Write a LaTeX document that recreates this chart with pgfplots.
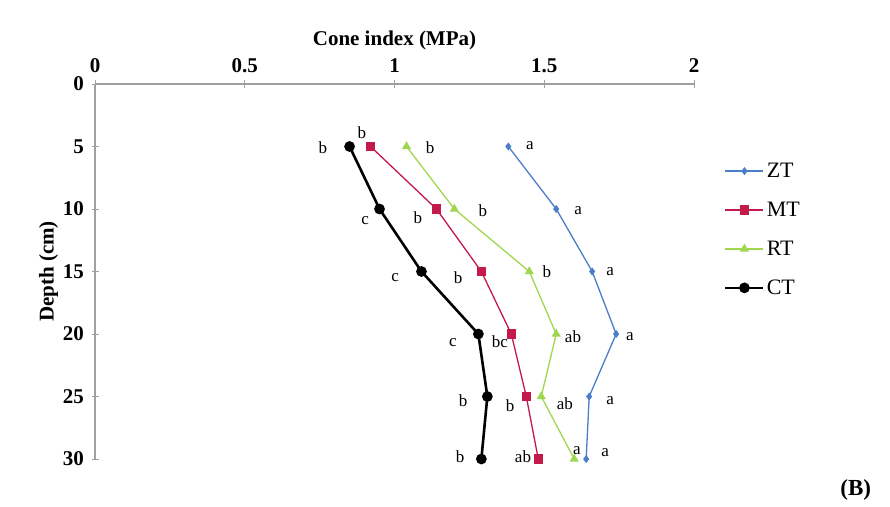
\documentclass[border=0pt]{standalone}
\usepackage{pgfplots}
\pgfplotsset{compat=1.18}
\usepackage{fontspec}
\setmainfont{Liberation Serif}
\definecolor{zt}{RGB}{74,126,200}
\definecolor{mt}{RGB}{195,25,75}
\definecolor{rt}{RGB}{160,215,80}
\definecolor{ax}{RGB}{160,160,160}
\begin{document}
\begin{tikzpicture}
\useasboundingbox (0,0) rectangle (890pt,506pt);
\begin{axis}[
  at={(95pt,47pt)}, anchor=south west,
  scale only axis, width=599pt, height=375pt,
  y dir=reverse,
  xmin=0, xmax=2, ymin=0, ymax=30,
  xtick={0,0.5,1,1.5,2}, ytick={0,5,10,15,20,25,30},
  axis x line*=top, axis y line*=left,
  axis line style={ax, line width=1.2pt},
  tick style={ax, line width=1pt},
  tick align=center, major tick length=7pt,
  xticklabel pos=upper,
  /pgf/number format/assume math mode=true,
  ticklabel style={font=\fontsize{21}{25}\selectfont\bfseries},
  xticklabel style={yshift=4pt},
  yticklabel style={xshift=-4pt},
  xlabel={Cone index (MPa)}, ylabel={Depth (cm)},
  label style={font=\fontsize{21}{25}\selectfont\bfseries},
  xlabel style={yshift=2pt},
  ylabel style={yshift=-2pt},
  clip=false,
  legend style={at={(1.045,0.612)}, anchor=west, draw=none, fill=none,
    font=\fontsize{22}{26}\selectfont, row sep=19pt,
    legend cell align=left},
  legend image code/.code={\draw[#1] (0pt,0pt) -- (38pt,0pt); \draw[#1,mark repeat=2,mark phase=2] plot coordinates {(0pt,0pt) (19pt,0pt) (38pt,0pt)};},
]
\addplot[zt, line width=1.3pt, mark=diamond*, mark size=3pt] coordinates {
(1.38,5) (1.54,10) (1.66,15) (1.74,20) (1.65,25) (1.64,30)};
\addlegendentry{ZT}
\addplot[mt, line width=1.3pt, mark=square*, mark size=4pt] coordinates {
(0.92,5) (1.14,10) (1.29,15) (1.39,20) (1.44,25) (1.48,30)};
\addlegendentry{MT}
\addplot[rt, line width=1.3pt, mark=triangle*, mark size=4pt] coordinates {
(1.04,5) (1.20,10) (1.45,15) (1.54,20) (1.49,25) (1.60,30)};
\addlegendentry{RT}
\addplot[black, line width=2.6pt, mark=*, mark size=4pt] coordinates {
(0.85,5) (0.95,10) (1.09,15) (1.28,20) (1.31,25) (1.29,30)};
\addlegendentry{CT}
\begin{scope}[every node/.style={font=\fontsize{17}{20}\selectfont}]
\node at (axis cs:1.452,4.9) {a};
\node at (axis cs:1.613,10.1) {a};
\node at (axis cs:1.72,15.0) {a};
\node at (axis cs:1.786,20.2) {a};
\node at (axis cs:1.72,25.3) {a};
\node at (axis cs:1.703,29.5) {a};
\node at (axis cs:0.891,3.9) {b};
\node at (axis cs:1.078,10.7) {b};
\node at (axis cs:1.212,15.5) {b};
\node at (axis cs:1.352,20.6) {bc};
\node at (axis cs:1.386,25.7) {b};
\node at (axis cs:1.429,29.8) {ab};
\node at (axis cs:1.119,5.1) {b};
\node at (axis cs:1.295,10.1) {b};
\node at (axis cs:1.509,15.0) {b};
\node at (axis cs:1.596,20.2) {ab};
\node at (axis cs:1.569,25.6) {ab};
\node at (axis cs:1.609,29.3) {a};
\node at (axis cs:0.761,5.1) {b};
\node at (axis cs:0.902,10.9) {c};
\node at (axis cs:1.002,15.5) {c};
\node at (axis cs:1.195,20.7) {c};
\node at (axis cs:1.229,25.3) {b};
\node at (axis cs:1.219,29.8) {b};
\end{scope}
\node[font=\fontsize{23}{27}\selectfont\bfseries] at (axis cs:2.54,32.5) {(B)};
\end{axis}
\end{tikzpicture}
\end{document}
